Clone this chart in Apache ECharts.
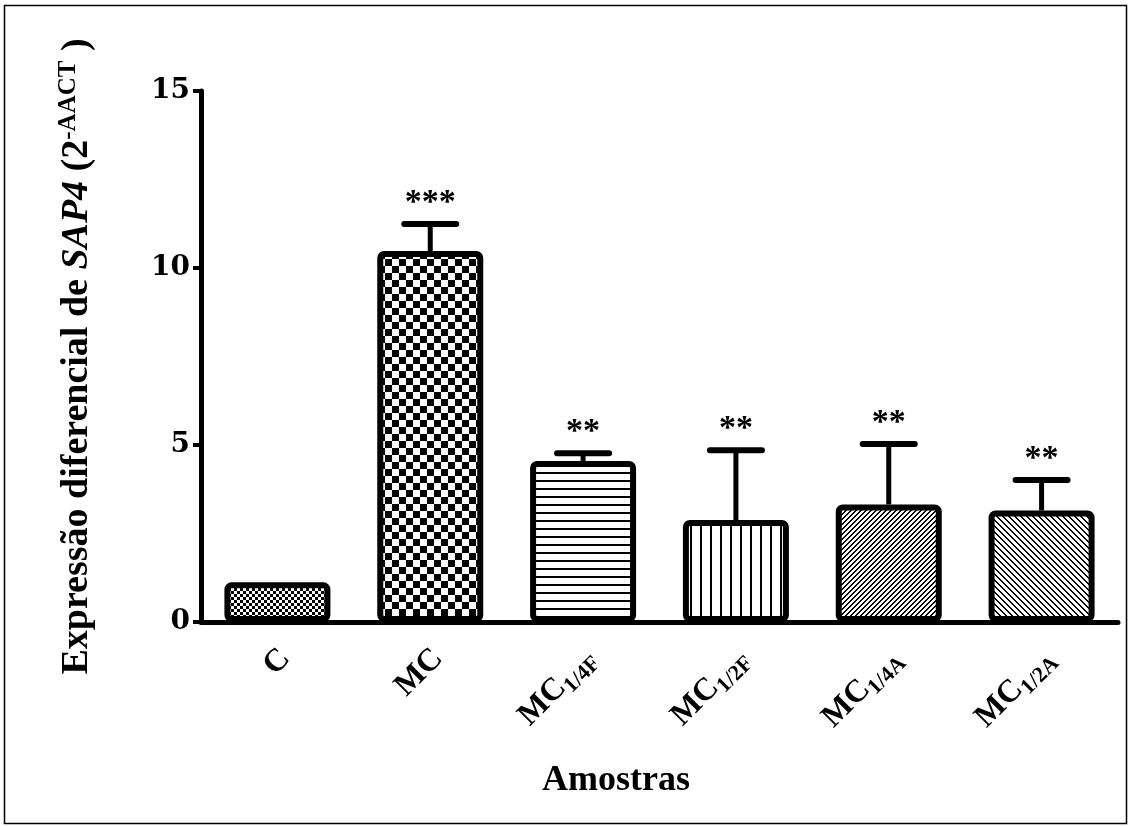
<!DOCTYPE html>
<html lang="pt">
<head>
    <meta charset="utf-8">
    <title>Expressão diferencial de SAP4</title>
    <script src="https://cdn.jsdelivr.net/npm/echarts@6/dist/echarts.min.js"></script>
    <style>
        html, body { margin: 0; padding: 0; background: #fff; }
        #main { width: 1130px; height: 826px; }
    </style>
</head>
<body>
<div id="main"></div>
<script type="text/javascript">
    // dados
    var catMain = ['C', 'MC', 'MC', 'MC', 'MC', 'MC'];
    var catSub = ['', '', '1/4F', '1/2F', '1/4A', '1/2A'];
    var valores = [1.12, 10.48, 4.55, 2.88, 3.32, 3.15];
    var erroSup = [1.12, 11.24, 4.77, 4.85, 5.03, 4.01];
    var signif = ['', '***', '**', '**', '**', '**'];
    var yTicks = [0, 5, 10, 15];

    var categorias = catMain.map(function (m, i) { return m + catSub[i]; });
    var serif = 'Liberation Serif';

    // padrões de preenchimento (hachuras)
    function tile(w, h, test) {
        var c = document.createElement('canvas');
        c.width = w; c.height = h;
        var g = c.getContext('2d');
        g.fillStyle = '#fff';
        g.fillRect(0, 0, w, h);
        g.fillStyle = '#000';
        for (var x = 0; x < w; x++) {
            for (var y = 0; y < h; y++) {
                if (test(x, y)) g.fillRect(x, y, 1, 1);
            }
        }
        return {image: c, repeat: 'repeat'};
    }
    var padroes = [
        tile(6, 6, function (x, y) { return (Math.floor(x / 3) + Math.floor(y / 3)) % 2 === 0; }),
        tile(14, 14, function (x, y) { return (Math.floor(x / 7) + Math.floor(y / 7)) % 2 === 0; }),
        tile(8, 8, function (x, y) { return y < 2; }),
        tile(10, 10, function (x, y) { return x < 2; }),
        tile(5, 5, function (x, y) { return (x + y) % 5 < 2; }),
        tile(6, 6, function (x, y) { return ((x - y) % 6 + 6) % 6 < 2; })
    ];

    var myChart = echarts.init(document.getElementById('main'));

    var option = {
        animation: false,
        backgroundColor: '#fff',
        grid: {left: 201, right: 12, top: 91, bottom: 204},
        xAxis: {
            type: 'category',
            data: categorias,
            axisLine: {lineStyle: {color: '#000', width: 5}},
            axisTick: {alignWithLabel: true, length: 10, lineStyle: {color: '#000', width: 4}},
            axisLabel: {
                rotate: 45,
                margin: 24,
                padding: [22, 0, 0, 0],
                formatter: function (v, i) {
                    return '{m|' + catMain[i] + '}' + (catSub[i] ? '{s|' + catSub[i] + '}' : '');
                },
                rich: {
                    m: {fontFamily: serif, fontWeight: 'bold', fontSize: 32, color: '#000', verticalAlign: 'bottom'},
                    s: {fontFamily: serif, fontWeight: 'bold', fontSize: 22, color: '#000', verticalAlign: 'bottom', padding: [0, 0, -4, 0]}
                }
            }
        },
        yAxis: {
            type: 'value',
            min: 0,
            max: 15,
            interval: 5,
            splitLine: {show: false},
            axisLine: {show: true, lineStyle: {color: '#000', width: 5}},
            axisTick: {show: true, length: 8, lineStyle: {color: '#000', width: 4}},
            axisLabel: {
                margin: 11,
                fontFamily: 'DejaVu Serif', fontWeight: 'bold', fontSize: 28, color: '#000',
                formatter: function (v) { return yTicks.indexOf(v) >= 0 ? String(v) : ''; }
            },
            name: '{b|Expressão diferencial de }{i|SAP4}{b| (2}{sup|-AACT}{b| )}',
            nameLocation: 'middle',
            nameGap: 102,
            nameTextStyle: {
                rich: {
                    b: {fontFamily: serif, fontWeight: 'bold', fontSize: 38, color: '#000'},
                    i: {fontFamily: serif, fontWeight: 'bold', fontStyle: 'italic', fontSize: 38, color: '#000'},
                    sup: {fontFamily: serif, fontWeight: 'bold', fontSize: 25, color: '#000', padding: [0, 0, 18, 0]}
                }
            }
        },
        series: [
            {
                type: 'bar',
                data: valores.map(function (v, i) {
                    return {value: v, itemStyle: {color: padroes[i]}};
                }),
                barWidth: 106,
                itemStyle: {borderColor: '#000', borderWidth: 6, borderRadius: 4},
                z: 2
            },
            {
                type: 'custom',
                z: 3,
                data: valores.map(function (v, i) { return [i, v, erroSup[i]]; }),
                renderItem: function (params, api) {
                    var i = api.value(0);
                    var base = api.coord([i, api.value(1)]);
                    var topo = api.coord([i, api.value(2)]);
                    var filhos = [];
                    if (api.value(2) > api.value(1)) {
                        filhos.push({
                            type: 'line',
                            shape: {x1: base[0], y1: base[1], x2: topo[0], y2: topo[1]},
                            style: {stroke: '#000', lineWidth: 5}
                        });
                        filhos.push({
                            type: 'line',
                            shape: {x1: topo[0] - 26, y1: topo[1], x2: topo[0] + 26, y2: topo[1]},
                            style: {stroke: '#000', lineWidth: 6, lineCap: 'round'}
                        });
                    }
                    if (signif[i]) {
                        filhos.push({
                            type: 'text',
                            style: {
                                x: topo[0], y: topo[1] - 21,
                                text: signif[i],
                                font: 'bold 34px "Liberation Serif"',
                                fill: '#000',
                                align: 'center',
                                verticalAlign: 'middle'
                            }
                        });
                    }
                    return {type: 'group', children: filhos};
                }
            }
        ],
        graphic: [
            {
                type: 'rect',
                shape: {x: 4.5, y: 5.5, width: 1122, height: 818},
                style: {fill: null, stroke: '#000', lineWidth: 1.5},
                silent: true
            },
            {
                type: 'text',
                left: 542,
                top: 763,
                style: {text: 'Amostras', font: 'bold 36px "Liberation Serif"', fill: '#000'}
            }
        ]
    };

    myChart.setOption(option);
</script>
</body>
</html>
